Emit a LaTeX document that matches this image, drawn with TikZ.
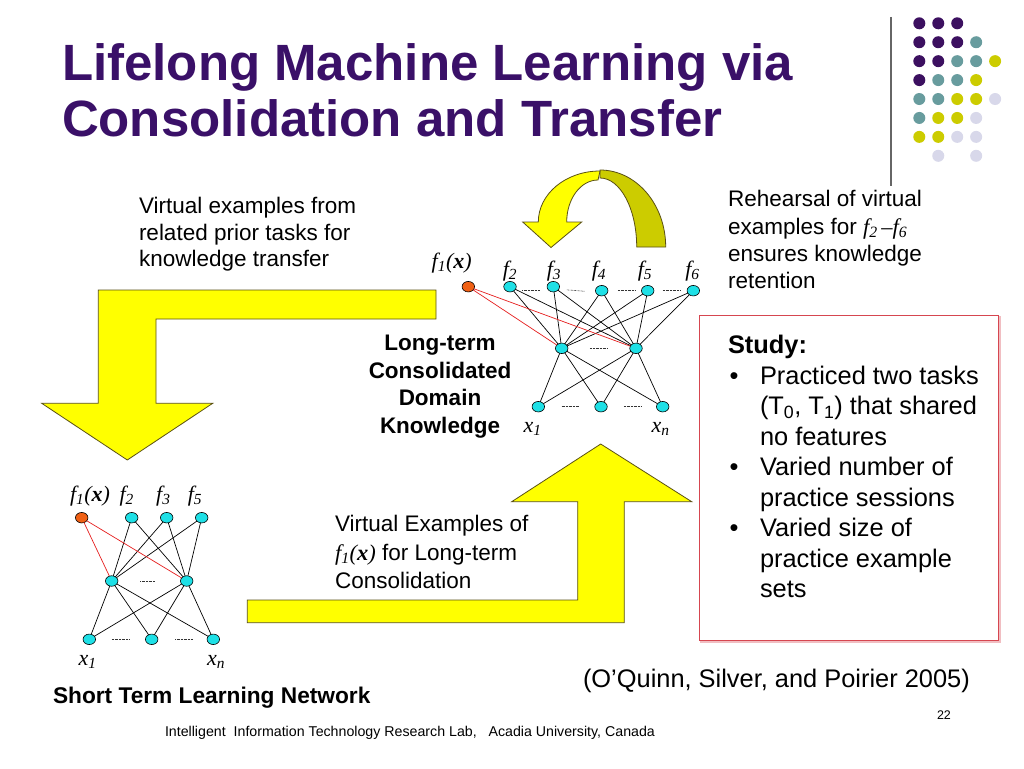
\documentclass[tikz,border=0pt]{standalone}
\usepackage{fontspec}
\setmainfont{Liberation Sans}
\newfontfamily\tms{Liberation Serif}
\usetikzlibrary{shapes.geometric,calc}
\definecolor{titlepurple}{RGB}{58,16,104}
\definecolor{dpurple}{RGB}{60,16,96}
\definecolor{dteal}{RGB}{104,156,158}
\definecolor{dyellow}{RGB}{204,204,0}
\definecolor{dlav}{RGB}{216,216,234}
\definecolor{neucyan}{RGB}{30,224,230}
\definecolor{neuorange}{RGB}{240,96,20}
\definecolor{arrowyellow}{RGB}{255,255,0}
\definecolor{arrowdark}{RGB}{204,204,0}
\definecolor{arrowline}{RGB}{90,80,20}
\definecolor{boxred}{RGB}{214,70,80}
\definecolor{linered}{RGB}{230,30,30}
\newcommand{\myfx}[1]{{\tms\itshape f\textsubscript{#1}}}
\newcommand{\myfone}{{\tms\itshape f\textsubscript{1}(\textbf{x})}}
\newcommand{\myxs}[1]{{\tms\itshape x\textsubscript{#1}}}
\tikzset{
  neuron/.style={ellipse, draw=black, line width=0.6pt, fill=neucyan, minimum width=12.5pt, minimum height=10.5pt, inner sep=0pt},
  outneuron/.style={neuron, fill=neuorange},
  wire/.style={line width=0.7pt, black},
  redwire/.style={line width=0.7pt, linered},
  dotsep/.style={line width=0.6pt, dash pattern=on 0.7pt off 0.7pt, black!80},
  bigarrow/.style={fill=arrowyellow, draw=arrowline, line width=0.8pt, line join=miter},
  backarrow/.style={fill=arrowdark, draw=arrowline, line width=0.8pt},
  lbl/.style={anchor=base, font=\tms\itshape\fontsize{22}{26}\selectfont},
  titletext/.style={anchor=base west, text=titlepurple, font=\bfseries\fontsize{51}{58}\selectfont},
  bodytext/.style={anchor=base west, font=\fontsize{22.5}{27}\selectfont},
  boldtext/.style={anchor=base, font=\bfseries\fontsize{22.5}{27}\selectfont},
  boxtext/.style={anchor=base west, font=\fontsize{25.4}{30}\selectfont},
}
\begin{document}
\begin{tikzpicture}[x=1pt,y=-1pt, every node/.style={inner sep=0pt, outer sep=0pt}]
\useasboundingbox (0,0) rectangle (1024,768);
\fill[white] (0,0) rectangle (1024,768);

% decorative dots and rule
\draw[line width=1.2pt, black!60] (891,17) -- (891,186);
\foreach \c/\r/\col in {0/0/dpurple,1/0/dpurple,2/0/dpurple,
  0/1/dpurple,1/1/dpurple,2/1/dpurple,3/1/dteal,
  0/2/dpurple,1/2/dpurple,2/2/dteal,3/2/dteal,4/2/dyellow,
  0/3/dpurple,1/3/dteal,2/3/dteal,3/3/dyellow,
  0/4/dteal,1/4/dteal,2/4/dyellow,3/4/dyellow,4/4/dlav,
  0/5/dteal,1/5/dyellow,2/5/dyellow,3/5/dlav,
  0/6/dyellow,1/6/dyellow,2/6/dlav,3/6/dlav,
  1/7/dlav,3/7/dlav}
  \fill[\col] ({919.3+\c*18.95},{23.3+\r*18.93}) circle (6pt);

% title
\node[titletext] (title1) at (62,80) {Lifelong Machine Learning via};
\node[titletext] (title2) at (62,136) {Consolidation and Transfer};

% big arrows
\draw[bigarrow] (98.3,290) -- (436,290) -- (436,319) -- (156,319) -- (156,403.3)
  -- (212.7,403.3) -- (127.3,460) -- (41.7,403.3) -- (98.3,403.3) -- cycle;
\draw[bigarrow] (247.3,622.7) -- (624.3,622.7) -- (624.3,501.7) -- (691.7,501.7)
  -- (600.7,444) -- (511.7,501.7) -- (577.7,501.7) -- (577.7,600) -- (247.3,600) -- cycle;

% curved arrow
\draw[backarrow] (665.7,247) arc[start angle=0, end angle=90, x radius=65.7pt, y radius=77pt]
  -- (600,178) arc[start angle=90, end angle=0, x radius=36.7pt, y radius=69pt] -- cycle;
\draw[bigarrow] (538.3,222) arc[start angle=180, end angle=90, x radius=61.7pt, y radius=51pt]
  -- (598,180) arc[start angle=90, end angle=180, x radius=31.3pt, y radius=42pt]
  -- (581.7,222) -- (551,247.5) -- (522.7,222) -- cycle;

% study box
\draw[line width=1.5pt, boxred!35] (701,317) rectangle (1000,642);
\draw[line width=1pt, boxred, fill=white] (699.3,315) rectangle (998.3,640);

% top network
\node[outneuron] (t1) at (468.3,286.7) {};
\node[neuron] (t2) at (510,286.7) {};
\node[neuron] (t3) at (553.3,286.7) {};
\node[neuron] (t4) at (601.7,290.7) {};
\node[neuron] (t5) at (647.7,290.7) {};
\node[neuron] (t6) at (693.3,290.7) {};
\node[neuron] (th1) at (561.7,348.3) {};
\node[neuron] (th2) at (636,348.3) {};
\node[neuron] (ti1) at (538.3,406.7) {};
\node[neuron] (ti2) at (601,406.7) {};
\node[neuron] (ti3) at (662.7,406.7) {};
\foreach \s in {t2,t3,t4,t5,t6} \foreach \h in {th1,th2} \draw[wire] (\s) -- (\h);
\foreach \i in {ti1,ti2,ti3} \foreach \h in {th1,th2} \draw[wire] (\i) -- (\h);
\draw[redwire] (t1) -- (th1);
\draw[redwire] (t1) -- (th2);
\draw[dotsep] ($(t2)!0.28!(t3)+(0,3.5)$) -- ($(t2)!0.70!(t3)+(0,3.5)$);
\draw[dotsep] ($(t3)!0.28!(t4)+(0,2)$) -- ($(t3)!0.65!(t4)+(0,2)$);
\draw[dotsep] ($(t4)!0.35!(t5)$) -- ($(t4)!0.74!(t5)$);
\draw[dotsep] ($(t5)!0.33!(t6)$) -- ($(t5)!0.71!(t6)$);
\draw[dotsep] ($(th1)!0.38!(th2)$) -- ($(th1)!0.61!(th2)$);
\draw[dotsep] ($(ti1)!0.37!(ti2)$) -- ($(ti1)!0.65!(ti2)$);
\draw[dotsep] ($(ti2)!0.37!(ti3)$) -- ($(ti2)!0.66!(ti3)$);
\node[lbl] (lt1) at (451.7,268.5) {\myfone};
\node[lbl] (lt2) at (510,276.5) {\myfx{2}};
\node[lbl] (lt3) at (554,276.5) {\myfx{3}};
\node[lbl] (lt4) at (599,276.5) {\myfx{4}};
\node[lbl] (lt5) at (645,276.5) {\myfx{5}};
\node[lbl] (lt6) at (692.5,276.5) {\myfx{6}};
\node[lbl] (ltx1) at (532.5,432) {\myxs{1}};
\node[lbl] (ltxn) at (660.7,432) {\myxs{n}};

% bottom network
\node[outneuron] (b1) at (81.7,517.7) {};
\node[neuron] (b2) at (131.7,517.7) {};
\node[neuron] (b3) at (166.7,517.7) {};
\node[neuron] (b5) at (201.7,517.7) {};
\node[neuron] (bh1) at (111.7,581) {};
\node[neuron] (bh2) at (186.7,581) {};
\node[neuron] (bi1) at (89.3,639.3) {};
\node[neuron] (bi2) at (151.7,639.3) {};
\node[neuron] (bi3) at (213.3,639.3) {};
\foreach \s in {b2,b3,b5} \foreach \h in {bh1,bh2} \draw[wire] (\s) -- (\h);
\foreach \i in {bi1,bi2,bi3} \foreach \h in {bh1,bh2} \draw[wire] (\i) -- (\h);
\draw[redwire] (b1) -- (bh1);
\draw[redwire] (b1) -- (bh2);
\draw[dotsep] ($(bh1)!0.38!(bh2)$) -- ($(bh1)!0.58!(bh2)$);
\draw[dotsep] ($(bi1)!0.36!(bi2)$) -- ($(bi1)!0.65!(bi2)$);
\draw[dotsep] ($(bi2)!0.38!(bi3)$) -- ($(bi2)!0.67!(bi3)$);
\node[lbl] (lb1) at (90,501.7) {\myfone};
\node[lbl] (lb2) at (126.7,501.7) {\myfx{2}};
\node[lbl] (lb3) at (163.3,501.7) {\myfx{3}};
\node[lbl] (lb5) at (195,501.7) {\myfx{5}};
\node[lbl] (lbx1) at (87.5,665) {\myxs{1}};
\node[lbl] (lbxn) at (216,665) {\myxs{n}};

% text blocks
\node[bodytext] (ve1) at (139,213.3) {Virtual examples from};
\node[bodytext] (ve2) at (139,240) {related prior tasks for};
\node[bodytext] (ve3) at (139,266.7) {knowledge transfer};

\node[bodytext] (re1) at (728,206.7) {Rehearsal of virtual};
\node[bodytext] (re2) at (728,234) {examples for {\tms\itshape f\textsubscript{2}\,–f\textsubscript{6}}};
\node[bodytext] (re3) at (728,261) {ensures knowledge};
\node[bodytext] (re4) at (728,288.3) {retention};

\node[boldtext] (lt1a) at (440,350.5) {Long-term};
\node[boldtext] (lt2a) at (440,378) {Consolidated};
\node[boldtext] (lt3a) at (440,405.5) {Domain};
\node[boldtext] (lt4a) at (440,433) {Knowledge};

\node[bodytext] (vx1) at (335,531.7) {Virtual Examples of};
\node[bodytext] (vx2) at (335,560) {\myfone{} for Long-term};
\node[bodytext] (vx3) at (335,588.3) {Consolidation};

\node[boxtext, font=\bfseries\fontsize{25.4}{30}\selectfont] (st0) at (728,353.3) {Study:};
\node[boxtext, anchor=base] (sb1) at (734,384) {•};
\node[boxtext] (st1) at (760,384) {Practiced two tasks};
\node[boxtext] (st2) at (760,414.5) {(T\textsubscript{0}, T\textsubscript{1}) that shared};
\node[boxtext] (st3) at (760,445) {no features};
\node[boxtext, anchor=base] (sb2) at (734,475.5) {•};
\node[boxtext] (st4) at (760,475.5) {Varied number of};
\node[boxtext] (st5) at (760,506) {practice sessions};
\node[boxtext, anchor=base] (sb3) at (734,536.5) {•};
\node[boxtext] (st6) at (760,536.5) {Varied size of};
\node[boxtext] (st7) at (760,567) {practice example};
\node[boxtext] (st8) at (760,597.5) {sets};

\node[boxtext] (cite) at (583,687) {(O’Quinn, Silver, and Poirier 2005)};
\node[anchor=base west, font=\bfseries\fontsize{22.7}{27}\selectfont] (stl) at (53,703) {Short Term Learning Network};
\node[anchor=base west, font=\fontsize{12.5}{15}\selectfont] (pg) at (937,719) {22};
\node[anchor=base west, font=\fontsize{14.2}{17}\selectfont] (foot) at (165,736) {Intelligent\ \ Information Technology Research Lab,\ \ \ Acadia University, Canada};
\end{tikzpicture}
\end{document}
